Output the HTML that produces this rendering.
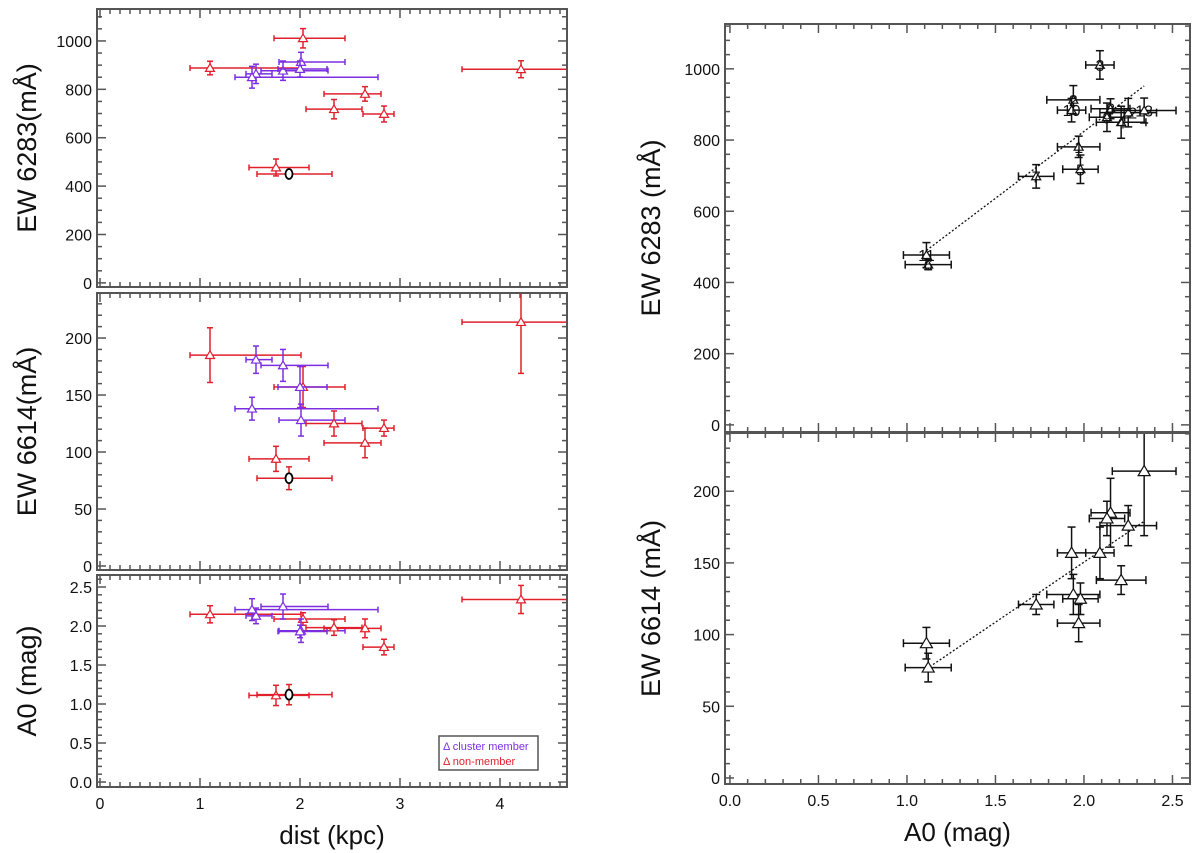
<!DOCTYPE html>
<html><head><meta charset="utf-8"><style>
body{margin:0;background:#fff}
svg{display:block;font-family:"Liberation Sans",sans-serif}
</style></head><body>
<svg id="fig" width="1200" height="853" viewBox="0 0 1200 853" xmlns="http://www.w3.org/2000/svg">
<g>
<rect x="439" y="736" width="99" height="34" fill="#fff" stroke="#555" stroke-width="1.5"/>
<text x="443" y="750" font-size="11" fill="#7b2fe0">Δ cluster member</text>
<text x="443" y="765" font-size="11" fill="#e0202c">Δ non-member</text>
</g>
</svg>
<script>
const labels = ['8','3','2','9','4','12','10','1','5','7','11','6','13'];
const member = [0,0,1,1,1,1,1,0,0,0,0,0,0];
const dist = [1.10,2.03,2.01,1.56,1.52,1.83,2.00,2.65,2.34,2.84,1.76,1.89,4.21];
const distErrLo = [0.20,0.29,0.22,0.10,0.17,0.22,0.22,0.41,0.28,0.21,0.27,0.32,0.59];
const distErrHi = [0.91,0.42,0.44,0.16,1.26,0.45,0.27,0.16,0.28,0.10,0.33,0.43,0.70];
const ew6283 = [888,1011,913,864,850,877,884,781,718,698,477,450,883];
const ew6283Err = [28,40,40,40,45,40,33,30,40,33,35,14,35];
const ew6614 = [185,157,128,181,138,176,157,108,125,121,94,77,214];
const ew6614Err = [24,18,14,12,10,14,18,13,11,7,11,10,45];
const a0 = [2.15,2.09,1.94,2.13,2.21,2.25,1.93,1.97,1.98,1.73,1.11,1.12,2.34];
const a0Err = [0.11,0.08,0.15,0.10,0.14,0.16,0.08,0.12,0.10,0.10,0.13,0.13,0.18];
const fit6283X = [1.11,2.34];
const fit6283Y = [490,952];
const fit6614X = [1.11,2.34];
const fit6614Y = [76,179];
const distTicks = ['0','1','2','3','4'];
const ew6283Ticks = ['0','200','400','600','800','1000'];
const ew6614Ticks = ['0','50','100','150','200'];
const a0Ticks = ['0.0','0.5','1.0','1.5','2.0','2.5'];

const NS='http://www.w3.org/2000/svg';
const svg=document.getElementById('fig');
const legend=svg.lastElementChild;
function mk(tag,attrs,parent){const e=document.createElementNS(NS,tag);for(const k in attrs)e.setAttribute(k,attrs[k]);if(parent)parent.appendChild(e);else svg.insertBefore(e,legend);return e;}

function panel(p){
  const g=mk('g',{});
  
  
  const sx=v=>p.x0+(v-p.xmin)/(p.xmax-p.xmin)*(p.x1-p.x0);
  const sy=v=>p.y1-(v-p.ymin)/(p.ymax-p.ymin)*(p.y1-p.y0);
  const clip='c'+p.name;
  const cp=mk('clipPath',{id:clip},g);mk('rect',{x:p.x0,y:p.y0,width:p.x1-p.x0,height:p.y1-p.y0},cp);
  const tk=mk('g',{stroke:'#555','stroke-width':1.5},g);
  
  
  for(let i=0;;i++){const v=p.xmin0+i*p.xminor;if(v>p.xmax+1e-9)break;if(v<p.xmin-1e-9)continue;
    const major=Math.abs(v/p.xmajor-Math.round(v/p.xmajor))<1e-6;const L=major?9:5;const X=sx(v);
    mk('line',{x1:X,x2:X,y1:p.y1,y2:p.y1-L},tk);mk('line',{x1:X,x2:X,y1:p.y0,y2:p.y0+L},tk);}
  for(let i=0;;i++){const v=p.ymin0+i*p.yminor;if(v>p.ymax+1e-9)break;if(v<p.ymin-1e-9)continue;
    const major=Math.abs(v/p.ymajor-Math.round(v/p.ymajor))<1e-6;const L=major?9:5;const Y=sy(v);
    mk('line',{x1:p.x0,x2:p.x0+L,y1:Y,y2:Y},tk);mk('line',{x1:p.x1,x2:p.x1-L,y1:Y,y2:Y},tk);}
  p.yTicks.forEach((t,i)=>{const e=mk('text',{x:p.x0-5,y:sy(parseFloat(t))+6,'font-size':16,'text-anchor':'end',fill:'#111'},g);e.textContent=t;
    
    });
  if(p.xTicks)p.xTicks.forEach(t=>{const e=mk('text',{x:sx(parseFloat(t)),y:p.y1+22,'font-size':16,'text-anchor':'middle',fill:'#111'},g);e.textContent=t;
    
    });
  if(p.xTitle){const e=mk('text',{x:(p.x0+p.x1)/2,y:p.y1+57,'font-size':26,'text-anchor':'middle',fill:'#111'},g);e.textContent=p.xTitle;
    
    }
  const yt=mk('text',{x:0,y:0,'font-size':27,'text-anchor':'middle',fill:'#111',transform:`translate(${p.ytx},${(p.y0+p.y1)/2}) rotate(-90)`},g);yt.textContent=p.yTitle;
  
  
  const data=mk('g',{'clip-path':`url(#${clip})`},g);
  
  
  if(p.fitX){const l=mk('line',{x1:sx(p.fitX[0]),y1:sy(p.fitY[0]),x2:sx(p.fitX[1]),y2:sy(p.fitY[1]),stroke:'#111','stroke-width':1.3,'stroke-dasharray':'2,2'},data);
    
    }
  const xs=p.xv,ys=p.yv;
  for(let i=0;i<xs.length;i++){
    const col=p.mono?'#111':(member[i]?'#7b2fe0':'#e0202c');
    const pt=mk('g',{stroke:col,'stroke-width':1.5,fill:'none'},data);
    
    
    const X=sx(xs[i]),Y=sy(ys[i]);
    const xl=sx(xs[i]-p.xeL[i]),xh=sx(xs[i]+p.xeH[i]),yl=sy(ys[i]-p.ye[i]),yh=sy(ys[i]+p.ye[i]);
    const c=p.cap;
    mk('line',{x1:xl,x2:xh,y1:Y,y2:Y},pt);mk('line',{x1:xl,x2:xl,y1:Y-c,y2:Y+c},pt);mk('line',{x1:xh,x2:xh,y1:Y-c,y2:Y+c},pt);
    mk('line',{x1:X,x2:X,y1:yl,y2:yh},pt);mk('line',{x1:X-c,x2:X+c,y1:yl,y2:yl},pt);mk('line',{x1:X-c,x2:X+c,y1:yh,y2:yh},pt);
    if(!p.mono && labels[i]==='6'){
      mk('ellipse',{cx:X,cy:Y,rx:3.5,ry:5,stroke:'#000','stroke-width':1.8,fill:'#fff'},pt);
    }else{
      const s=p.ms;
      mk('polygon',{points:`${X-s},${Y+s*0.75} ${X+s},${Y+s*0.75} ${X},${Y-s*0.95}`,fill:'#fff','stroke-width':1.2},pt);
    }
  }
  if(p.showLabels){
    const lg=mk('g',{},data);
    
    
    for(let i=0;i<xs.length;i++){
      const t=document.createElementNS(NS,'text');
      t.setAttribute('x',sx(xs[i]));
      t.setAttribute('y',sy(ys[i])+6);
      t.setAttribute('font-size','16');
      t.setAttribute('text-anchor','middle');
      t.setAttribute('fill','#111');
      t.textContent=labels[i];
      
      
      lg.appendChild(t);
    }
  }
  mk('rect',{x:p.x0,y:p.y0,width:p.x1-p.x0,height:p.y1-p.y0,fill:'none',stroke:'#555','stroke-width':2},g);
}
const L={x0:97,x1:567,xmin:-0.03,xmax:4.67,xmin0:0,xminor:0.1,xmajor:1,cap:3,ms:4.5,ytx:36,xv:dist,xeL:distErrLo,xeH:distErrHi};
panel(Object.assign({},L,{name:'dist-ew6283-panel',y0:9,y1:287,ymin:-17,ymax:1132,ymin0:0,yminor:50,ymajor:200,yTicks:ew6283Ticks,yTitle:'EW 6283(mÅ)',yv:ew6283,ye:ew6283Err}));
panel(Object.assign({},L,{name:'dist-ew6614-panel',y0:293,y1:570,ymin:-3.5,ymax:239.5,ymin0:0,yminor:10,ymajor:50,yTicks:ew6614Ticks,yTitle:'EW 6614(mÅ)',yv:ew6614,ye:ew6614Err}));
panel(Object.assign({},L,{name:'dist-a0-panel',y0:575,y1:787,ymin:-0.064,ymax:2.654,ymin0:0,yminor:0.1,ymajor:0.5,yTicks:a0Ticks,yTitle:'A0 (mag)',yv:a0,ye:a0Err,xTicks:distTicks,xTitle:'dist (kpc)'}));
const R={x0:725,x1:1190,xmin:-0.028,xmax:2.599,xmin0:0,xminor:0.1,xmajor:0.5,cap:4,ms:6,ytx:660,mono:true,xv:a0,xeL:a0Err,xeH:a0Err};
panel(Object.assign({},R,{name:'a0-ew6283-panel',y0:24,y1:432,ymin:-20,ymax:1126,ymin0:0,yminor:40,ymajor:200,yTicks:ew6283Ticks,yTitle:'EW 6283 (mÅ)',yv:ew6283,ye:ew6283Err,fitX:fit6283X,fitY:fit6283Y,showLabels:true,ms:4.5}));
panel(Object.assign({},R,{name:'a0-ew6614-panel',y0:433,y1:784,ymin:-4.2,ymax:240.6,ymin0:0,yminor:10,ymajor:50,yTicks:ew6614Ticks,yTitle:'EW 6614 (mÅ)',yv:ew6614,ye:ew6614Err,fitX:fit6614X,fitY:fit6614Y,xTicks:a0Ticks,xTitle:'A0 (mag)',showLabels:false}));
</script>
</body></html>
